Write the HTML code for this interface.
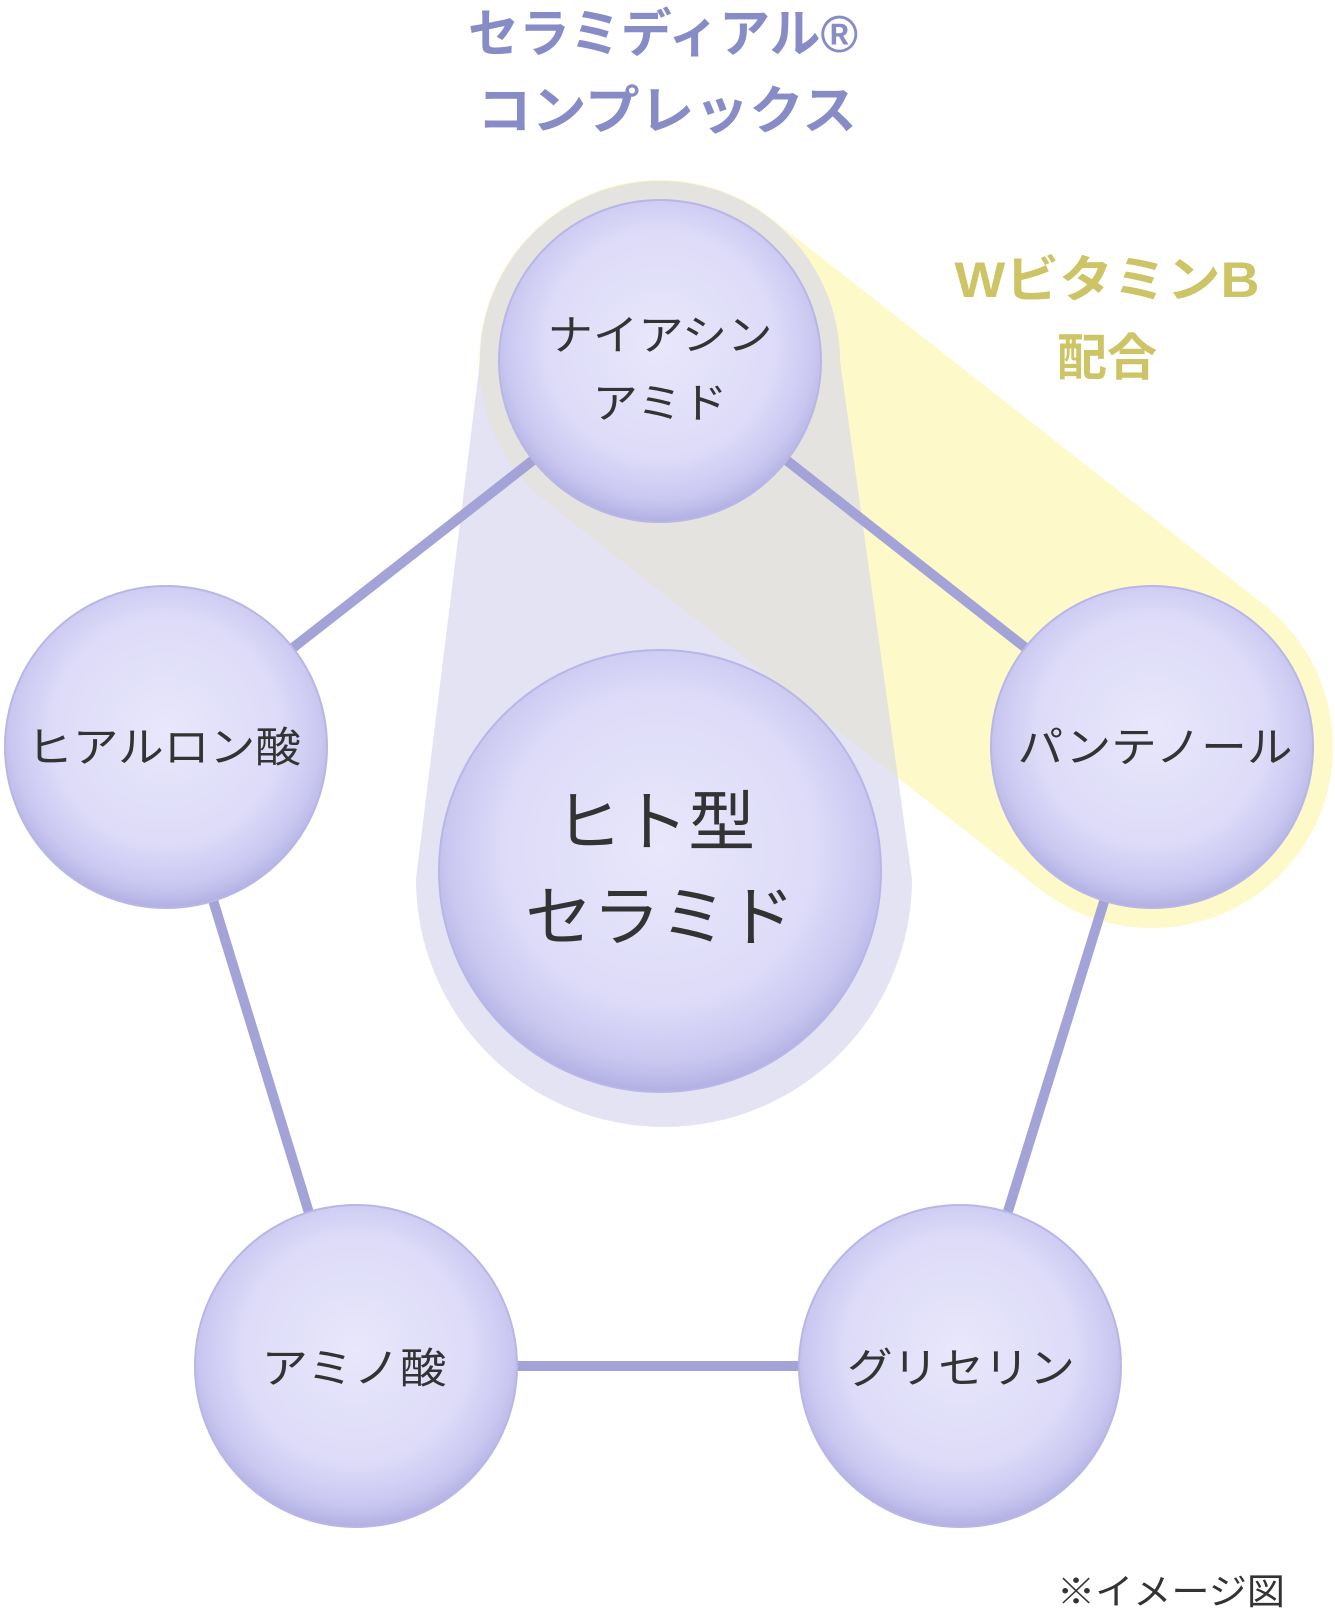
<!DOCTYPE html>
<html><head><meta charset="utf-8"><style>
html,body{margin:0;padding:0;background:#fff;}
svg{display:block;}
text{font-family:"Liberation Sans","Noto Sans CJK JP",sans-serif;}
</style></head><body>
<svg width="1335" height="1612" viewBox="0 0 1335 1612" xmlns="http://www.w3.org/2000/svg">
<defs>
<radialGradient id="bub" cx="50%" cy="45%" r="55%">
<stop offset="0" stop-color="#e8e7fb"/>
<stop offset="0.65" stop-color="#dddbf8"/>
<stop offset="0.88" stop-color="#c9c7f0"/>
<stop offset="1" stop-color="#b2b0e2"/>
</radialGradient>
<clipPath id="capclip">
<path d="M480,361 A180,180 0 0 1 840,361 L912,879 A248,248 0 0 1 416,879 Z"/>
</clipPath>
</defs>
<line x1="660" y1="361" x2="1152" y2="747" stroke="#fdf9c9" stroke-width="362" stroke-linecap="round"/>
<path d="M480,361 A180,180 0 0 1 840,361 L912,879 A248,248 0 0 1 416,879 Z" fill="#e3e3f4"/>
<g clip-path="url(#capclip)">
<line x1="660" y1="361" x2="1152" y2="747" stroke="#e4e3e0" stroke-width="362" stroke-linecap="round"/>
</g>
<g stroke="#a3a3d8" stroke-width="10">
<line x1="660" y1="361" x2="166" y2="747"/>
<line x1="660" y1="361" x2="1152" y2="747"/>
<line x1="166" y1="747" x2="356" y2="1366"/>
<line x1="1152" y1="747" x2="960" y2="1366"/>
<line x1="356" y1="1366" x2="960" y2="1366"/>
</g>
<g fill="url(#bub)" stroke="#b8b6e6" stroke-width="2">
<circle cx="660" cy="361" r="161"/>
<circle cx="166" cy="747" r="161"/>
<circle cx="1152" cy="747" r="161"/>
<circle cx="356" cy="1366" r="161"/>
<circle cx="960" cy="1366" r="161"/>
<circle cx="660" cy="871" r="221"/>
</g>
<g fill="#878bc6" font-weight="bold" font-size="52" text-anchor="middle">
<text x="663" y="52" textLength="390" lengthAdjust="spacingAndGlyphs">セラミディアル®</text>
<text x="667" y="129" textLength="380" lengthAdjust="spacingAndGlyphs">コンプレックス</text>
</g>
<g fill="#cdc465" font-weight="bold" font-size="50" text-anchor="middle">
<text x="1107" y="297" textLength="305" lengthAdjust="spacingAndGlyphs">WビタミンB</text>
<text x="1107" y="375">配合</text>
</g>
<g fill="#333" font-size="42" text-anchor="middle">
<text x="660" y="350" textLength="225" lengthAdjust="spacingAndGlyphs">ナイアシン</text>
<text x="660" y="418" textLength="135" lengthAdjust="spacingAndGlyphs">アミド</text>
<text x="164" y="762" textLength="274" lengthAdjust="spacingAndGlyphs">ヒアルロン酸</text>
<text x="1155" y="762" textLength="275" lengthAdjust="spacingAndGlyphs">パンテノール</text>
<text x="354" y="1383" textLength="185" lengthAdjust="spacingAndGlyphs">アミノ酸</text>
<text x="961" y="1383" textLength="228" lengthAdjust="spacingAndGlyphs">グリセリン</text>
</g>
<g fill="#333" font-size="66" text-anchor="middle">
<text x="655" y="845" textLength="200" lengthAdjust="spacingAndGlyphs">ヒト型</text>
<text x="660" y="940" textLength="270" lengthAdjust="spacingAndGlyphs">セラミド</text>
</g>
<text x="1171" y="1604" fill="#333" font-size="36" text-anchor="middle" textLength="228" lengthAdjust="spacingAndGlyphs">※イメージ図</text>
</svg>
</body></html>
